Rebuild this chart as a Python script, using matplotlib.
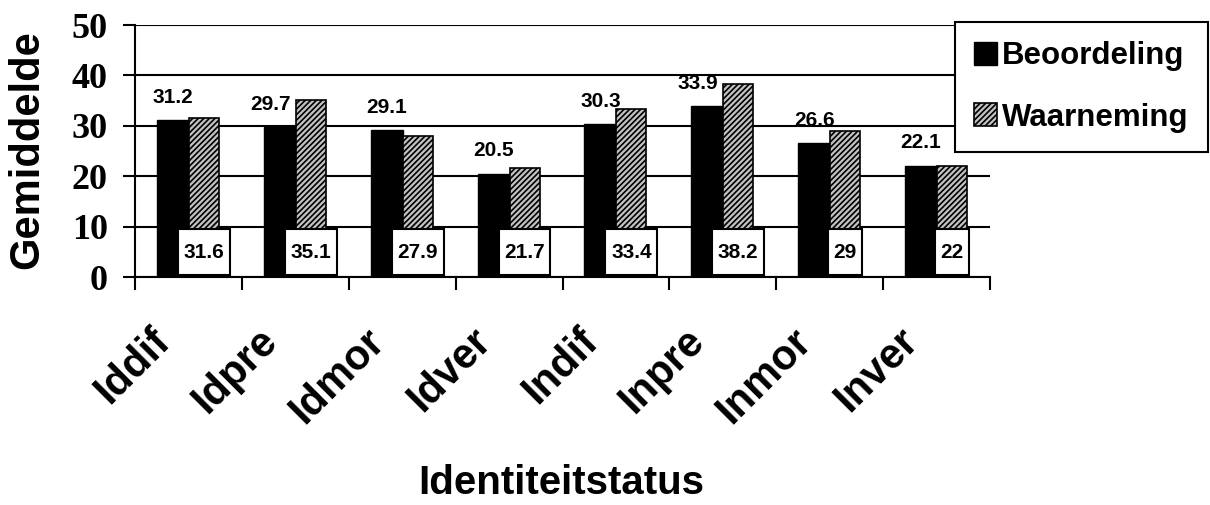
import numpy as np
import matplotlib
matplotlib.use("Agg")
import matplotlib.pyplot as plt
from matplotlib.path import Path
from matplotlib.transforms import blended_transform_factory

# data
categories = ["Iddif", "Idpre", "Idmor", "Idver", "Indif", "Inpre", "Inmor", "Inver"]
beoordeling = [31.2, 29.7, 29.1, 20.5, 30.3, 33.9, 26.6, 22.1]
waarneming = [31.6, 35.1, 27.9, 21.7, 33.4, 38.2, 29, 22]
series_names = ["Beoordeling", "Waarneming"]
yticks = [0, 10, 20, 30, 40, 50]

plt.rcParams['font.family'] = ['Liberation Sans', 'DejaVu Sans']
plt.rcParams['font.weight'] = 'bold'
plt.rcParams['hatch.linewidth'] = 1.2

W, H = 1210, 505
fig = plt.figure(figsize=(W / 100, H / 100), dpi=100)
ax = fig.add_axes([135 / W, 1 - 277 / H, 855 / W, 252 / H])

x = np.arange(len(categories))

# black bars and hatched bars
ax.bar(x - 0.145, beoordeling, width=0.30, color='black', edgecolor='black',
       linewidth=1, zorder=2, label=series_names[0])
ax.bar(x + 0.145, waarneming, width=0.28, color='#c2c2c2', edgecolor='black',
       hatch='//////', linewidth=1.2, zorder=2, label=series_names[1])


def label_box(x0, y0, width, height, mutation_size):
    # more vertical padding than horizontal, like the excel label boxes
    px = 0.27 * mutation_size
    py = 0.64 * mutation_size
    x0, y0 = x0 - px, y0 - py
    x1, y1 = x0 + width + 2 * px, y0 + height + 2 * py
    return Path([(x0, y0), (x1, y0), (x1, y1), (x0, y1), (x0, y0)], closed=True)


for i in x:
    # excel nudged the label left when the hatched bar was in the way
    shift = 0.085 if waarneming[i] - beoordeling[i] > 4 else 0
    ax.text(i - 0.145 - shift, beoordeling[i] + 4.5, f"{beoordeling[i]:g}",
            ha='center', va='center', fontsize=15, fontweight='bold', zorder=4)
    ax.text(i + 0.145, 4.9, f"{waarneming[i]:g}", ha='center', va='center',
            fontsize=15, fontweight='bold', zorder=5,
            bbox=dict(boxstyle=label_box, facecolor='white', edgecolor='black',
                      linewidth=1.5))

ax.set_xlim(-0.5, 7.5)
ax.set_ylim(0, 50)
ax.set_yticks(yticks)
ax.set_yticklabels([str(t) for t in yticks], family='Liberation Serif',
                   fontweight='bold', fontsize=26)
ax.tick_params(axis='y', length=8.6, width=1.5, pad=11, direction='out')

ax.set_xticks(x)
ax.set_xticklabels([])
ax.tick_params(axis='x', which='major', length=0)
ax.set_xticks(np.arange(-0.5, 8, 1), minor=True)
ax.tick_params(axis='x', which='minor', length=9, width=1.5, direction='out')

ax.yaxis.grid(True, color='black', linewidth=1.5)
ax.set_axisbelow(True)
for s in ['top', 'right']:
    ax.spines[s].set_visible(False)
for s in ['left', 'bottom']:
    ax.spines[s].set_linewidth(1.5)

# rotated category labels
trans = blended_transform_factory(ax.transData, ax.transAxes)
for i, name in enumerate(categories):
    ax.text(i - 0.36, -44 / 252, name, transform=trans, rotation=45,
            rotation_mode='anchor', ha='right', va='top', fontsize=30,
            fontweight='bold')

fig.text(27 / W, 1 - 150 / H, "Gemiddelde", rotation=90, ha='center',
         va='center', fontsize=30, fontweight='bold')
fig.text(561 / W, 1 - 483 / H, "Identiteitstatus", ha='center', va='center',
         fontsize=29, fontweight='bold')

leg = fig.legend(loc='upper right', bbox_to_anchor=(1208 / W, 1 - 22 / H),
                 borderaxespad=0, fancybox=False, framealpha=1,
                 edgecolor='black', prop={'size': 22.5, 'weight': 'bold'},
                 handlelength=0.75, handleheight=0.75, handletextpad=0.15,
                 borderpad=0.62, labelspacing=1.0)
leg.get_frame().set_linewidth(1.5)

fig.savefig("out.png", dpi=100)
